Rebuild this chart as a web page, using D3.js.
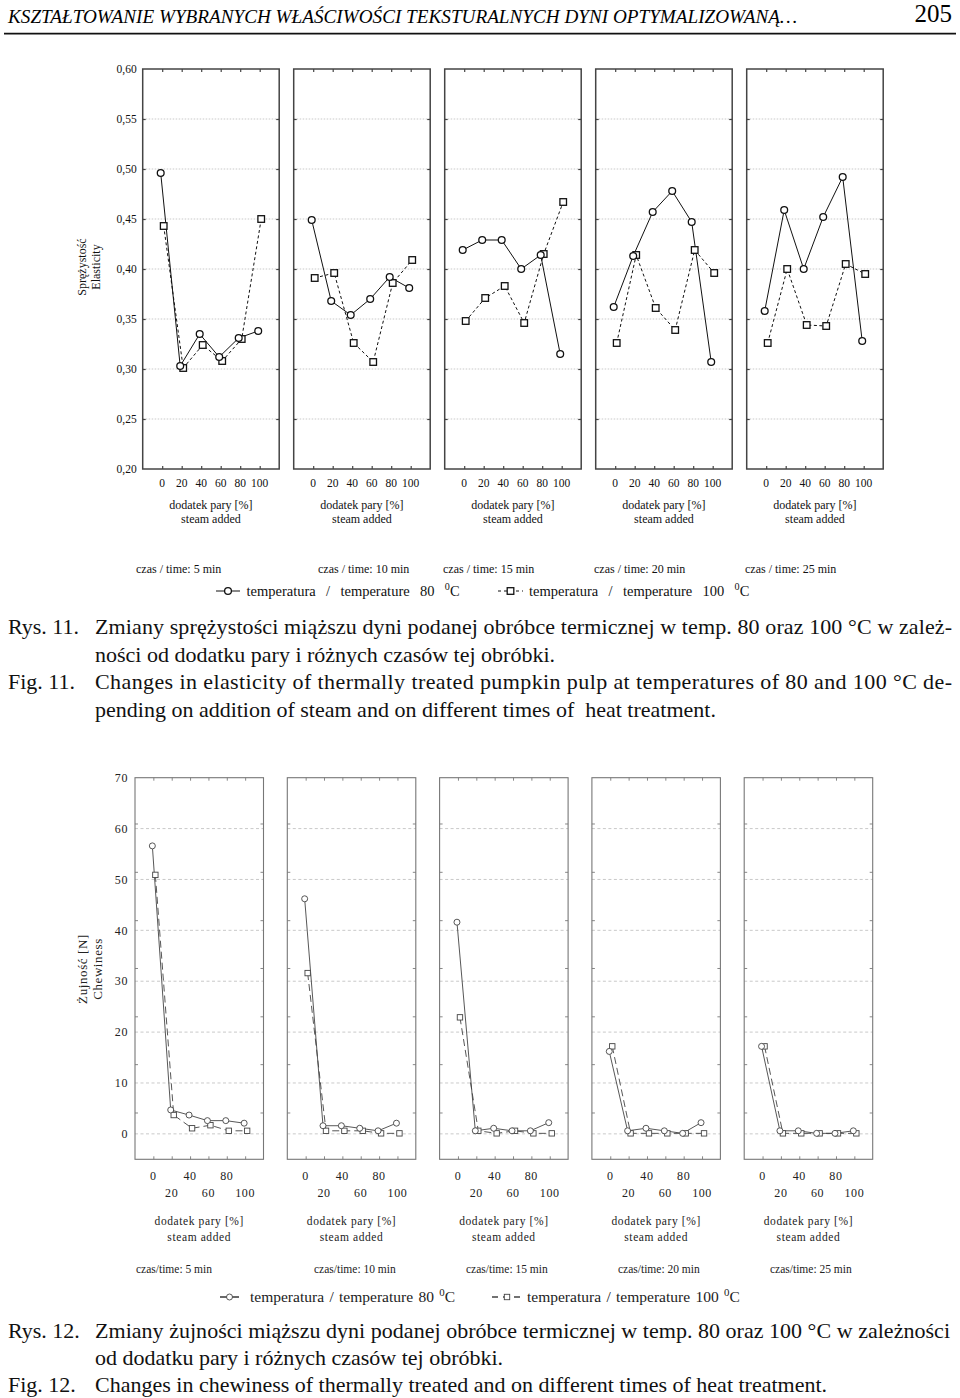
<!DOCTYPE html>
<html>
<head>
<meta charset="utf-8">
<script src="https://cdn.jsdelivr.net/npm/d3@7"></script>
<style>
  body { margin: 0; background: #fff; }
  svg { display: block; font-family: "Liberation Serif", "DejaVu Serif", serif; }
</style>
</head>
<body>
<script>
/* data */
let steam = [0, 20, 40, 60, 80, 100];
let times = ["5", "10", "15", "20", "25"];

// sprężystość / elasticity, one row per heating time
let elasticity80 = [
  [0.496, 0.303, 0.335, 0.312, 0.331, 0.338],
  [0.449, 0.368, 0.354, 0.370, 0.392, 0.381],
  [0.419, 0.429, 0.429, 0.400, 0.414, 0.315],
  [0.362, 0.413, 0.457, 0.478, 0.447, 0.307],
  [0.358, 0.459, 0.400, 0.452, 0.492, 0.328]
];
let elasticity100 = [
  [0.443, 0.301, 0.324, 0.308, 0.330, 0.450],
  [0.391, 0.396, 0.326, 0.307, 0.386, 0.409],
  [0.348, 0.371, 0.383, 0.346, 0.415, 0.467],
  [0.326, 0.414, 0.361, 0.339, 0.419, 0.396],
  [0.326, 0.400, 0.344, 0.343, 0.405, 0.395]
];

// żujność / chewiness [N]
let chewiness80 = [
  [56.6, 4.7, 3.7, 2.6, 2.6, 2.1],
  [46.2, 1.6, 1.6, 1.1, 0.6, 2.1],
  [41.6, 0.6, 1.1, 0.6, 0.6, 2.2],
  [16.2, 0.6, 1.1, 0.6, 0.1, 2.2],
  [17.2, 0.6, 0.6, 0.1, 0.1, 0.6]
];
let chewiness100 = [
  [50.9, 3.7, 1.1, 1.7, 0.6, 0.6],
  [31.6, 0.6, 0.6, 0.6, 0.1, 0.1],
  [22.9, 0.6, 0.1, 0.6, 0.1, 0.1],
  [17.2, 0.1, 0.1, 0.1, 0.1, 0.1],
  [17.2, 0.1, 0.1, 0.1, 0.1, 0.1]
];

let elasticityTicks = [0.20, 0.25, 0.30, 0.35, 0.40, 0.45, 0.50, 0.55, 0.60];
let chewinessTicks = [0, 10, 20, 30, 40, 50, 60, 70];
let chewinessSideTicks = [4.2, 13.7, 23.1, 32.6, 42.0, 51.5, 61.0];
/* data */

let width = 960;
let height = 1398;

let svg = d3.select("body").append("svg")
  .attr("width", width)
  .attr("height", height);

/* header */
svg.append("text")
  .attr("x", 8).attr("y", 23)
  .attr("font-size", 19).attr("font-style", "italic")
  .attr("textLength", 789).attr("lengthAdjust", "spacingAndGlyphs")
  .text("KSZTAŁTOWANIE WYBRANYCH WŁAŚCIWOŚCI TEKSTURALNYCH DYNI OPTYMALIZOWANĄ…");
svg.append("text")
  .attr("x", 952).attr("y", 22)
  .attr("font-size", 25).attr("text-anchor", "end")
  .text("205");
svg.append("line")
  .attr("x1", 4).attr("x2", 956).attr("y1", 33.7).attr("y2", 33.7)
  .attr("stroke", "#111").attr("stroke-width", 1.8);

/* panels */
function drawPanels(opt) {
  let x = d3.scaleLinear().domain([-20, 120]).range([0, opt.panelWidth]);
  let y = d3.scaleLinear().domain(opt.yDomain).range([opt.bottom, opt.top]);

  opt.data80.forEach(function(vals80, i) {
    let vals100 = opt.data100[i];
    let p = svg.append("g")
      .attr("transform", "translate(" + (opt.left + i * opt.step) + ",0)");

    // grid
    p.selectAll(".grid").data(opt.grid).join("line")
      .attr("class", "grid")
      .attr("x1", 0).attr("x2", opt.panelWidth)
      .attr("y1", d => y(d)).attr("y2", d => y(d))
      .attr("stroke", opt.gridColor).attr("stroke-width", 0.8)
      .attr("stroke-dasharray", opt.gridDash);

    // inward ticks on all four sides
    let tickStyle = function(g) {
      g.select(".domain").remove();
      g.selectAll(".tick line").attr("stroke", opt.frameColor).attr("stroke-width", opt.frameWidth * 0.8);
    };
    p.append("g").attr("transform", "translate(0," + opt.bottom + ")")
      .call(d3.axisTop(x).tickValues(steam).tickSize(3).tickFormat(""))
      .call(tickStyle);
    p.append("g").attr("transform", "translate(0," + opt.top + ")")
      .call(d3.axisBottom(x).tickValues(steam).tickSize(3).tickFormat(""))
      .call(tickStyle);
    p.append("g")
      .call(d3.axisRight(y).tickValues(opt.sideTicks).tickSize(3).tickFormat(""))
      .call(tickStyle);
    p.append("g").attr("transform", "translate(" + opt.panelWidth + ",0)")
      .call(d3.axisLeft(y).tickValues(opt.sideTicks).tickSize(3).tickFormat(""))
      .call(tickStyle);

    // frame
    p.append("rect")
      .attr("x", 0).attr("y", opt.top)
      .attr("width", opt.panelWidth).attr("height", opt.bottom - opt.top)
      .attr("fill", "none").attr("stroke", opt.frameColor).attr("stroke-width", opt.frameWidth);

    // series
    let pts80 = steam.map((s, j) => ({ s: s, v: vals80[j] }));
    let pts100 = steam.map((s, j) => ({ s: s, v: vals100[j] }));
    let line80 = d3.line().x(d => x(d.s) + opt.offset80).y(d => y(d.v));
    let line100 = d3.line().x(d => x(d.s) + opt.offset100).y(d => y(d.v));

    p.append("path").attr("d", line100(pts100))
      .attr("fill", "none").attr("stroke", opt.lineColor).attr("stroke-width", opt.lineWidth)
      .attr("stroke-dasharray", opt.dash);
    p.append("path").attr("d", line80(pts80))
      .attr("fill", "none").attr("stroke", opt.lineColor).attr("stroke-width", opt.lineWidth);

    p.selectAll(".sq").data(pts100).join("rect")
      .attr("class", "sq")
      .attr("x", d => x(d.s) + opt.offset100 - opt.sq / 2)
      .attr("y", d => y(d.v) - opt.sq / 2)
      .attr("width", opt.sq).attr("height", opt.sq)
      .attr("fill", "#fff").attr("stroke", opt.markColor).attr("stroke-width", opt.markWidth);
    p.selectAll(".ci").data(pts80).join("circle")
      .attr("class", "ci")
      .attr("cx", d => x(d.s) + opt.offset80)
      .attr("cy", d => y(d.v))
      .attr("r", opt.r)
      .attr("fill", "#fff").attr("stroke", opt.markColor).attr("stroke-width", opt.markWidth);

    // x tick labels
    p.selectAll(".xl").data(steam).join("text")
      .attr("class", "xl")
      .attr("x", d => x(d))
      .attr("y", (d, j) => opt.xLabelY[j % opt.xLabelY.length])
      .attr("text-anchor", "middle")
      .attr("font-size", opt.tickFont)
      .attr("letter-spacing", opt.spacing)
      .attr("fill", opt.textColor)
      .text(d => d);

    p.append("text")
      .attr("x", opt.panelWidth / 2).attr("y", opt.titleY[0])
      .attr("text-anchor", "middle").attr("font-size", opt.labelFont)
      .attr("letter-spacing", opt.spacing).attr("fill", opt.textColor)
      .text("dodatek pary [%]");
    p.append("text")
      .attr("x", opt.panelWidth / 2).attr("y", opt.titleY[1])
      .attr("text-anchor", "middle").attr("font-size", opt.labelFont)
      .attr("letter-spacing", opt.spacing).attr("fill", opt.textColor)
      .text("steam added");

    svg.append("text")
      .attr("x", opt.timeX[i]).attr("y", opt.timeY)
      .attr("font-size", opt.labelFont).attr("fill", opt.textColor)
      .text(opt.timeText(times[i]));

    // y tick labels only on first panel
    if (i === 0) {
      p.selectAll(".yl").data(opt.yLabels).join("text")
        .attr("class", "yl")
        .attr("x", -opt.yLabelGap)
        .attr("y", d => y(d))
        .attr("dy", "0.35em")
        .attr("text-anchor", "end")
        .attr("font-size", opt.tickFont)
        .attr("letter-spacing", opt.spacing)
        .attr("fill", opt.textColor)
        .text(opt.yFormat);
    }
  });

  // y axis title
  let t = svg.append("text")
    .attr("transform", "translate(" + opt.yTitleX + "," + opt.yTitleY + ") rotate(-90)")
    .attr("text-anchor", "middle").attr("font-size", opt.yTitleFont)
    .attr("letter-spacing", opt.spacing).attr("fill", opt.textColor);
  t.append("tspan").attr("x", 0).attr("dy", 0).text(opt.yTitle[0]);
  t.append("tspan").attr("x", 0).attr("dy", opt.yTitleFont * 1.15).text(opt.yTitle[1]);

  // legend
  let lg = svg.append("g").attr("fill", opt.textColor);
  let ly = opt.legendY;
  lg.append("line").attr("x1", opt.legend80[0]).attr("x2", opt.legend80[1])
    .attr("y1", ly).attr("y2", ly).attr("stroke", opt.lineColor).attr("stroke-width", opt.legendLine);
  lg.append("circle").attr("cx", (opt.legend80[0] + opt.legend80[1]) / 2).attr("cy", ly).attr("r", opt.r)
    .attr("fill", "#fff").attr("stroke", opt.markColor).attr("stroke-width", opt.markWidth);
  lg.append("line").attr("x1", opt.legend100[0]).attr("x2", opt.legend100[1])
    .attr("y1", ly).attr("y2", ly).attr("stroke", opt.lineColor).attr("stroke-width", opt.legendLine)
    .attr("stroke-dasharray", opt.legendDash);
  lg.append("rect")
    .attr("x", (opt.legend100[0] + opt.legend100[1]) / 2 - opt.sq / 2).attr("y", ly - opt.sq / 2)
    .attr("width", opt.sq).attr("height", opt.sq)
    .attr("fill", "#fff").attr("stroke", opt.markColor).attr("stroke-width", opt.markWidth);

  [["80", opt.legend80Text], ["100", opt.legend100Text]].forEach(function(l) {
    let tx = lg.append("text").attr("x", l[1]).attr("y", ly + opt.legendFont * 0.33)
      .attr("font-size", opt.legendFont).attr("xml:space", "preserve")
      .attr("word-spacing", opt.legendWordSpacing);
    tx.append("tspan").text("temperatura / temperature " + l[0] + " ");
    tx.append("tspan").attr("dy", -opt.legendFont * 0.4).attr("font-size", opt.legendFont * 0.7).text("0");
    tx.append("tspan").attr("dy", opt.legendFont * 0.4).text("C");
  });
}

drawPanels({
  data80: elasticity80, data100: elasticity100,
  left: 142.7, step: 151, panelWidth: 136.5, top: 69, bottom: 469,
  yDomain: [0.2, 0.6],
  grid: elasticityTicks.slice(1, -1), sideTicks: elasticityTicks.slice(1, -1),
  yLabels: elasticityTicks, yFormat: d => d3.format(".2f")(d).replace(".", ","), yLabelGap: 6,
  gridColor: "#bbb", gridDash: "1.5,1.5",
  frameColor: "#444", frameWidth: 1.5,
  lineColor: "#111", lineWidth: 1, dash: "3,2.5",
  markColor: "#111", markWidth: 1.3, r: 3.4, sq: 6.6,
  offset80: -1.5, offset100: 1.5,
  tickFont: 11.5, labelFont: 12, spacing: 0, textColor: "#111",
  xLabelY: [486.5], titleY: [508.5, 523],
  timeX: [136, 318, 443, 594, 745], timeY: 572.5,
  timeText: t => "czas / time: " + t + " min",
  yTitle: ["Sprężystość", "Elasticity"], yTitleX: 86, yTitleY: 267, yTitleFont: 12,
  legendY: 591, legend80: [216, 240], legend100: [498, 523],
  legendLine: 1, legendDash: "3,3", legend80Text: 246.5, legend100Text: 529,
  legendFont: 14.5, legendWordSpacing: 6.7
});

drawPanels({
  data80: chewiness80, data100: chewiness100,
  left: 135, step: 152.3, panelWidth: 128.5, top: 777.7, bottom: 1159.3,
  yDomain: [-5, 70],
  grid: chewinessTicks.slice(0, -1), sideTicks: chewinessSideTicks,
  yLabels: chewinessTicks, yFormat: d => d, yLabelGap: 7,
  gridColor: "#bbb", gridDash: "3,2.5",
  frameColor: "#777", frameWidth: 1.1,
  lineColor: "#444", lineWidth: 0.9, dash: "7,4",
  markColor: "#444", markWidth: 0.9, r: 3, sq: 5.4,
  offset80: -1, offset100: 2,
  tickFont: 12, labelFont: 11.5, spacing: 0.6, textColor: "#222",
  xLabelY: [1180, 1196.5], titleY: [1225, 1241],
  timeX: [136, 314, 466, 618, 770], timeY: 1273,
  timeText: t => "czas/time: " + t + " min",
  yTitle: ["Żujność [N]", "Chewiness"], yTitleX: 87, yTitleY: 969, yTitleFont: 13,
  legendY: 1297, legend80: [220, 239], legend100: [492, 522],
  legendLine: 1.6, legendDash: "6,5", legend80Text: 250, legend100Text: 527,
  legendFont: 15.5, legendWordSpacing: 1.5
});

/* captions */
let captions = [
  { x: 8, y: 634, t: "Rys. 11." },
  { x: 95, y: 634, t: "Zmiany sprężystości miąższu dyni podanej obróbce termicznej w temp. 80 oraz 100 °C w zależ-", w: 857 },
  { x: 95, y: 661.5, t: "ności od dodatku pary i różnych czasów tej obróbki." },
  { x: 8, y: 689, t: "Fig. 11." },
  { x: 95, y: 689, t: "Changes in elasticity of thermally treated pumpkin pulp at temperatures of 80 and 100 °C de-", w: 857 },
  { x: 95, y: 717, t: "pending on addition of steam and on different times of  heat treatment." },
  { x: 8, y: 1338, t: "Rys. 12." },
  { x: 95, y: 1338, t: "Zmiany żujności miąższu dyni podanej obróbce termicznej w temp. 80 oraz 100 °C w zależności", w: 855 },
  { x: 95, y: 1364.5, t: "od dodatku pary i różnych czasów tej obróbki." },
  { x: 8, y: 1392, t: "Fig. 12." },
  { x: 95, y: 1392, t: "Changes in chewiness of thermally treated and on different times of heat treatment." }
];

captions.forEach(function(c) {
  let el = svg.append("text")
    .attr("x", c.x).attr("y", c.y)
    .attr("font-size", 22).attr("fill", "#111")
    .attr("xml:space", "preserve")
    .text(c.t);
  if (c.w) el.attr("textLength", c.w).attr("lengthAdjust", "spacing");
});
</script>
</body>
</html>
